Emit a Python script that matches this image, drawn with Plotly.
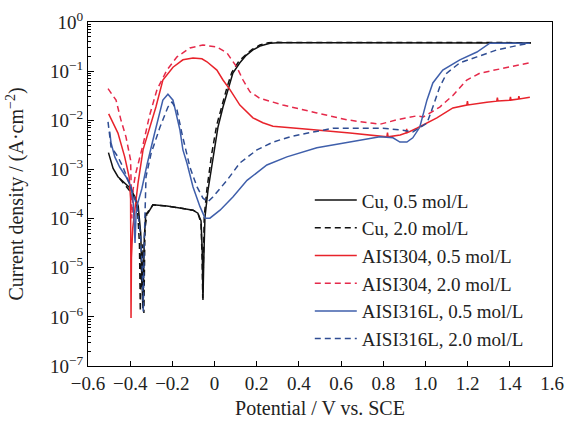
import plotly.graph_objects as go

# Potentiodynamic polarisation curves (potential in V vs. SCE, current density in A/cm2)
cu05_v = [-0.503, -0.492, -0.481, -0.458, -0.430, -0.401, -0.377, -0.362, -0.350, -0.344, -0.340,
          -0.337, -0.333, -0.326, -0.316, -0.292, -0.226, -0.150, -0.102, -0.079, -0.064, -0.058,
          -0.055, -0.051, -0.0455, -0.031, -0.008, 0.016, 0.040, 0.063, 0.087, 0.120, 0.150,
          0.182, 0.220, 0.263, 0.300, 0.600, 1.000, 1.300, 1.500]
cu05_i = [2.2e-3, 1.6e-3, 1.05e-3, 7.1e-4, 5.5e-4, 4.2e-4, 2.75e-4, 1.8e-4, 5e-5, 8e-6, 1.5e-6,
          6e-6, 4e-5, 1.26e-4, 1.29e-4, 1.9e-4, 1.8e-4, 1.6e-4, 1.48e-4, 1.29e-4, 9e-5, 2e-5,
          2.2e-6, 1.45e-5, 1.07e-4, 3.8e-4, 1.8e-3, 7.2e-3, 0.0186, 0.042, 0.091, 0.148, 0.21,
          0.27, 0.33, 0.37, 0.38, 0.38, 0.38, 0.375, 0.375]

cu20_v = [-0.450, -0.420, -0.385, -0.365, -0.356, -0.352, -0.348, -0.344, -0.340, -0.335,
          -0.330, -0.320, -0.292, -0.226, -0.150, -0.102, -0.079, -0.064, -0.059, -0.056, -0.052,
          -0.049, -0.036, -0.014, 0.010, 0.034, 0.058, 0.082, 0.115, 0.150, 0.180, 0.215, 0.255,
          0.300, 0.600, 1.000, 1.300, 1.500]
cu20_i = [6.5e-4, 4.5e-4, 3e-4, 1.5e-4, 3e-5, 1.3e-6, 2e-5, 4e-6, 3e-5, 1.2e-6,
          6e-5, 1.3e-4, 1.9e-4, 1.8e-4, 1.6e-4, 1.48e-4, 1.29e-4, 8e-5, 1.5e-5, 2.4e-6, 2e-5,
          1.1e-4, 4e-4, 2e-3, 7.9e-3, 0.02, 0.045, 0.095, 0.158, 0.22, 0.28, 0.34, 0.38,
          0.385, 0.385, 0.385, 0.38, 0.38]

ss304_05_v = [-0.502, -0.480, -0.458, -0.426, -0.405, -0.398, -0.396, -0.394, -0.388, -0.379,
              -0.363, -0.339, -0.308, -0.278, -0.245, -0.197, -0.150, -0.102, -0.060, -0.036,
              0.011, 0.040, 0.073, 0.120, 0.182, 0.229, 0.277, 0.372, 0.443, 0.642, 0.817,
              0.820, 0.823, 0.880, 0.908, 0.911, 0.914, 0.959, 1.054, 1.130, 1.196, 1.199, 1.202,
              1.291, 1.338, 1.341, 1.344, 1.400, 1.403, 1.406, 1.440, 1.443, 1.446, 1.495]
ss304_05_i = [0.0135, 0.0089, 0.0055, 0.0018, 7.1e-4, 2.5e-4, 9.5e-7, 1.6e-5, 6.3e-5, 1.48e-4,
              5.2e-4, 2.5e-3, 7.2e-3, 0.0186, 0.066, 0.12, 0.17, 0.186, 0.178, 0.155,
              0.105, 0.066, 0.042, 0.0204, 0.0112, 0.0089, 0.0076, 0.0069, 0.0066, 0.0055, 0.0046,
              0.0056, 0.0046, 0.005, 0.0055, 0.0067, 0.0056, 0.0069, 0.0112, 0.0178, 0.0204, 0.0245, 0.0205,
              0.0234, 0.0245, 0.029, 0.0246, 0.0257, 0.030, 0.0258, 0.027, 0.031, 0.0271, 0.0295]

ss304_20_v = [-0.505, -0.467, -0.444, -0.420, -0.398, -0.392, -0.386, -0.375, -0.363, -0.339,
              -0.308, -0.273, -0.226, -0.178, -0.117, -0.055, 0.011, 0.059, 0.106, 0.135, 0.168,
              0.215, 0.277, 0.324, 0.485, 0.627, 0.751, 0.784, 0.864, 0.959, 0.990, 1.068,
              1.130, 1.196, 1.258, 1.353, 1.495]
ss304_20_i = [0.044, 0.0257, 0.0102, 0.0046, 0.00155, 1e-4, 4e-4, 7.9e-4, 1.26e-3, 3.2e-3,
              0.0126, 0.042, 0.105, 0.195, 0.295, 0.34, 0.31, 0.234, 0.12, 0.066, 0.038,
              0.028, 0.0234, 0.0204, 0.0141, 0.0102, 0.0087, 0.0083, 0.0102, 0.0123, 0.0117, 0.0186,
              0.032, 0.066, 0.091, 0.11, 0.148]

ss316_05_v = [-0.497, -0.491, -0.473, -0.450, -0.420, -0.396, -0.385, -0.377, -0.372, -0.365,
              -0.345, -0.320, -0.284, -0.245, -0.221, -0.197, -0.164, -0.150, -0.131, -0.102,
              -0.069, -0.045, -0.022, 0.026, 0.087, 0.154, 0.248, 0.343, 0.485, 0.642, 0.784,
              0.846, 0.879, 0.912, 0.940, 0.973, 1.007, 1.035, 1.082, 1.163, 1.244, 1.305, 1.495]
ss316_05_i = [0.0059, 0.0035, 0.0018, 0.00112, 7.1e-4, 4.4e-4, 2e-4, 3.2e-5, 1.26e-4, 2e-4,
              4e-4, 1.26e-3, 0.0055, 0.0257, 0.034, 0.0257, 0.0063, 0.0025, 0.00135, 4.4e-4,
              1.75e-4, 1.02e-4, 1.02e-4, 1.48e-4, 2.75e-4, 6e-4, 1.23e-3, 1.8e-3, 2.75e-3, 3.6e-3,
              4.6e-3, 4.4e-3, 3.6e-3, 3.6e-3, 4.4e-3, 7.2e-3, 0.0257, 0.0575, 0.105, 0.17, 0.245,
              0.37, 0.37]

ss316_20_v = [-0.505, -0.491, -0.458, -0.434, -0.410, -0.385, -0.365, -0.350, -0.343, -0.338,
              -0.334, -0.330, -0.325, -0.301, -0.259, -0.221, -0.202, -0.178, -0.155, -0.117,
              -0.083, -0.055, -0.031, -0.008, 0.059, 0.120, 0.201, 0.277, 0.357, 0.443, 0.561,
              0.798, 0.893, 0.940, 1.007, 1.035, 1.068, 1.101, 1.163, 1.244, 1.338, 1.447, 1.495]
ss316_20_i = [0.0093, 0.0029, 0.0018, 0.00112, 6e-4, 3.2e-4, 1.6e-4, 4e-5, 1e-5, 1.26e-6,
              2.5e-5, 1.26e-4, 7.1e-4, 2.1e-3, 7.2e-3, 0.0186, 0.0234, 0.0162, 0.0055, 0.00112,
              4.4e-4, 2.6e-4, 2.2e-4, 2.75e-4, 6e-4, 1.35e-3, 2.5e-3, 3.6e-3, 4.6e-3, 5.5e-3,
              6.9e-3, 6.9e-3, 6.3e-3, 5.8e-3, 8.7e-3, 0.0186, 0.048, 0.091, 0.148, 0.195, 0.27,
              0.34, 0.37]

x_ticks = [-0.6, -0.4, -0.2, 0, 0.2, 0.4, 0.6, 0.8, 1.0, 1.2, 1.4, 1.6]
x_labels = ['\u22120.6', '\u22120.4', '\u22120.2', '0', '0.2', '0.4', '0.6', '0.8', '1.0', '1.2', '1.4', '1.6']
y_exps = [-7, -6, -5, -4, -3, -2, -1, 0]

black = '#111111'
red = '#e8232b'
red_d = '#e5294a'
blue = '#3f5fab'
blue_d = '#2f4d93'
font = 'Liberation Serif, Times New Roman, serif'

series = [
    ('Cu, 0.5 mol/L', cu05_v, cu05_i, black, 'solid'),
    ('Cu, 2.0 mol/L', cu20_v, cu20_i, black, '6px,4px'),
    ('AISI304, 0.5 mol/L', ss304_05_v, ss304_05_i, red, 'solid'),
    ('AISI304, 2.0 mol/L', ss304_20_v, ss304_20_i, red_d, '6px,4px'),
    ('AISI316L, 0.5 mol/L', ss316_05_v, ss316_05_i, blue, 'solid'),
    ('AISI316L, 2.0 mol/L', ss316_20_v, ss316_20_i, blue_d, '6px,4px'),
]

fig = go.Figure()
for name, v, i, col, dash in series:
    fig.add_trace(go.Scatter(x=v, y=i, mode='lines', name=name,
                             line=dict(color=col, width=1.5, dash=dash)))

minor_vals = [k * 10.0**e for e in y_exps[:-1] for k in range(2, 10)]

fig.update_layout(
    width=566, height=421,
    margin=dict(l=88, r=14, t=22, b=55),
    paper_bgcolor='white', plot_bgcolor='white',
    font=dict(family=font, size=19, color='#222222'),
    showlegend=True,
    legend=dict(x=0.478, y=0.537, xanchor='left', yanchor='top', itemwidth=42,
                bgcolor='rgba(0,0,0,0)', font=dict(size=19), tracegroupgap=0),
)
fig.update_xaxes(range=[-0.6, 1.6], tickvals=x_ticks, ticktext=x_labels,
                 ticks='inside', ticklen=5, tickcolor='black', automargin=False,
                 showline=True, linecolor='black', linewidth=1.2, mirror=True,
                 showgrid=False, zeroline=False,
                 title=dict(text='Potential / V vs. SCE', standoff=8, font=dict(size=20)))
fig.update_yaxes(type='log', range=[-7, 0],
                 tickvals=[10.0**e for e in y_exps],
                 ticktext=['10<sup>\u2212%d</sup>' % -e if e < 0 else '10<sup>0</sup>' for e in y_exps],
                 ticks='inside', ticklen=6, tickcolor='black', automargin=False,
                 minor=dict(tickvals=minor_vals, ticks='inside', ticklen=3, tickcolor='black'),
                 showline=True, linecolor='black', linewidth=1.2, mirror=True,
                 showgrid=False, zeroline=False,
                 title=dict(text='Current density / (A\u00b7cm<sup>\u22122</sup>)', standoff=20,
                            font=dict(size=20)))

# the page body has an 8px default margin; drop it so the figure sits at the window origin
fig.write_html('out.html', config={'displayModeBar': False},
               post_script="document.body.style.margin='0';")
